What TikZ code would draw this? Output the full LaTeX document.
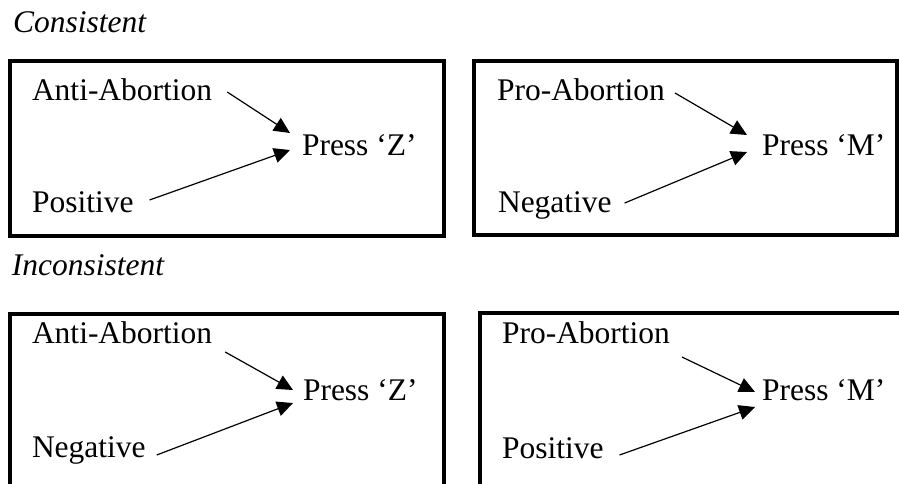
\documentclass[tikz,border=0pt]{standalone}
\usepackage{fontspec}
\setmainfont{Liberation Serif}
\usetikzlibrary{arrows.meta}
\tikzset{
  lbl/.style={anchor=base west, inner sep=0pt, outer sep=0pt, font=\fontsize{31.5}{36}\selectfont},
  ttl/.style={lbl, font=\fontsize{31.5}{36}\selectfont\itshape},
  frame/.style={draw=black, line width=4pt},
  arr/.style={line width=1.2pt, -{Triangle[length=16pt,width=15pt]}}
}
\begin{document}
\begin{tikzpicture}[x=1pt,y=-1pt]
\useasboundingbox (0,0) rectangle (899,483);
\clip (0,0) rectangle (899,483);
% titles
\node[ttl] (t1) at (13,32) {Consistent};
\node[ttl] (t2) at (12,275) {Inconsistent};
% frames
\draw[frame] (9.5,60.5) rectangle (444,235.5);
\draw[frame] (474,60.5) rectangle (897,234.5);
\draw[frame] (9.5,314) rectangle (444,520);
\draw[frame] (479.5,312.5) rectangle (920,520);
% box 1
\node[lbl] (a1) at (32,100) {Anti-Abortion};
\node[lbl] (p1) at (302,155) {Press ‘Z’};
\node[lbl] (s1) at (32,212) {Positive};
\draw[arr] ([shift={(15,-8)}]a1.base east) -- ([shift={(-12,-22)}]p1.base west);
\draw[arr] ([shift={(16,-12)}]s1.base east) -- ([shift={(-12,-5)}]p1.base west);
% box 2
\node[lbl] (a2) at (497,100) {Pro-Abortion};
\node[lbl] (p2) at (762,155) {Press ‘M’};
\node[lbl] (s2) at (498,212) {Negative};
\draw[arr] ([shift={(10,-7)}]a2.base east) -- ([shift={(-15,-20)}]p2.base west);
\draw[arr] ([shift={(13,-9)}]s2.base east) -- ([shift={(-15,-3)}]p2.base west);
% box 3
\node[lbl] (a3) at (32,343) {Anti-Abortion};
\node[lbl] (p3) at (303,400) {Press ‘Z’};
\node[lbl] (s3) at (32,457) {Negative};
\draw[arr] ([shift={(13,9)}]a3.base east) -- ([shift={(-10,-10)}]p3.base west);
\draw[arr] ([shift={(11,-2)}]s3.base east) -- ([shift={(-10,3)}]p3.base west);
% box 4
\node[lbl] (a4) at (502,343) {Pro-Abortion};
\node[lbl] (p4) at (762,400) {Press ‘M’};
\node[lbl] (s4) at (502,458) {Positive};
\draw[arr] ([shift={(12,14)}]a4.base east) -- ([shift={(-7,-8)}]p4.base west);
\draw[arr] ([shift={(16,-3)}]s4.base east) -- ([shift={(-7,7)}]p4.base west);
\end{tikzpicture}
\end{document}
